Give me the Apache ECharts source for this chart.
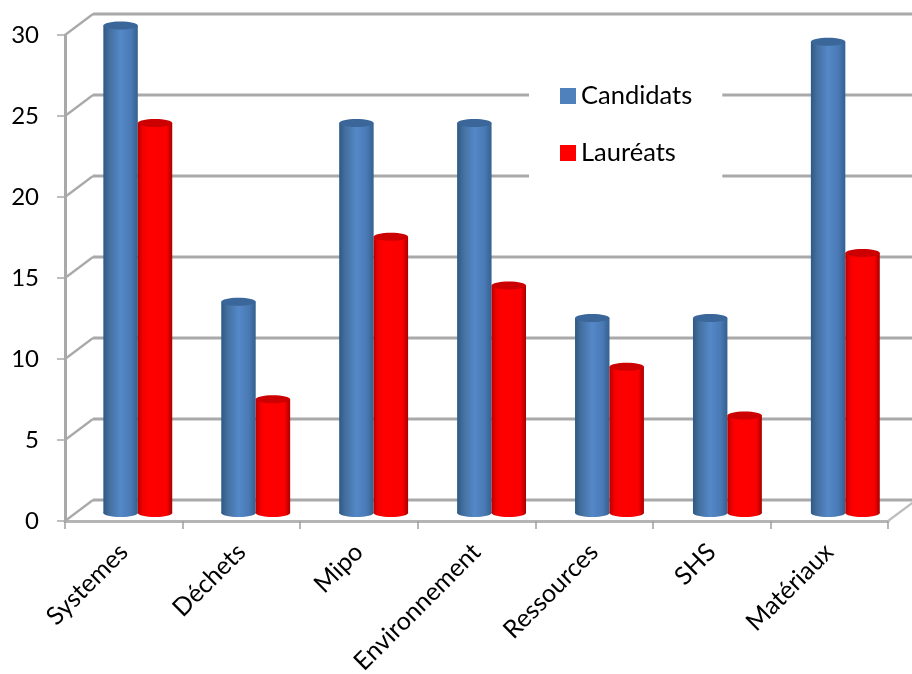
<!DOCTYPE html>
<html>
<head>
<meta charset="utf-8">
<style>html,body{margin:0;padding:0;background:#fff}#chart{width:912px;height:674px}</style>
<script src="https://cdn.jsdelivr.net/npm/echarts@6/dist/echarts.min.js"></script>
</head>
<body>
<div id="chart"></div>
<script>
const categories = ['Systemes', 'Déchets', 'Mipo', 'Environnement', 'Ressources', 'SHS', 'Matériaux'];
const candidats = [30, 13, 24, 24, 12, 12, 29];
const laureats = [24, 7, 17, 14, 9, 6, 16];
const valueTicks = [0, 5, 10, 15, 20, 25, 30];

// Oblique projection used for the pseudo-3D box
const DEPTH_X = 28, DEPTH_Y = -21;
const BAR_SHIFT_X = 14, BAR_SHIFT_Y = -8, BAR_RATIO = 0.293, CAP_RY = 4, BAR_SPREAD = 0.003, BAR_RISE = 1.003;
const WALL = '#a9a9a9';

const cylinder = (c) => new echarts.graphic.LinearGradient(0, 0, 1, 0, c);
const blueBody = [
  { offset: 0, color: '#2e5985' }, { offset: 0.18, color: '#44709f' },
  { offset: 0.5, color: '#5488c8' }, { offset: 0.8, color: '#4a7ab5' },
  { offset: 1, color: '#33608f' }
];
const redBody = [
  { offset: 0, color: '#b80000' }, { offset: 0.14, color: '#f20000' },
  { offset: 0.3, color: '#ff0000' }, { offset: 0.84, color: '#fa0000' },
  { offset: 1, color: '#a80000' }
];

// One cylinder: side = -1 for the left bar of a category, 0 for the right one
function barRenderer(side, body, cap) {
  return function (params, api) {
    const band = api.size([1, 0])[0];
    const w = band * BAR_RATIO;
    const top = api.coord([api.value(0), api.value(1)]);
    const base = api.coord([api.value(0), 0]);
    const x = top[0] + BAR_SHIFT_X + side * w + band * api.value(0) * BAR_SPREAD;
    const yB = base[1] + BAR_SHIFT_Y;
    const yT = yB - (base[1] - top[1]) * BAR_RISE;
    const fill = cylinder(body);
    return {
      type: 'group',
      children: [
        { type: 'ellipse', shape: { cx: x + w / 2, cy: yB, rx: w / 2, ry: CAP_RY }, style: { fill } },
        { type: 'rect', shape: { x, y: yT, width: w, height: yB - yT }, style: { fill } },
        { type: 'ellipse', shape: { cx: x + w / 2, cy: yT, rx: w / 2, ry: CAP_RY }, style: { fill: cap } }
      ]
    };
  };
}

// Back wall gridline and the diagonal joining it to the front axis
function wallRenderer(params, api) {
  const p = api.coord([0, api.value(0)]);
  const left = p[0] - api.size([1, 0])[0] / 2;
  const line = (x1, y1, x2, y2, w, c) => ({
    type: 'line', shape: { x1, y1, x2, y2 }, style: { stroke: c || WALL, lineWidth: w }
  });
  const kids = [
    line(left, p[1], left + DEPTH_X, p[1] + DEPTH_Y, 2.2),
    line(left + DEPTH_X, p[1] + DEPTH_Y, api.getWidth(), p[1] + DEPTH_Y, 2.8)
  ];
  if (api.value(0) === 0) {
    const right = left + api.size([1, 0])[0] * categories.length;
    kids.push(line(right, p[1], right + DEPTH_X, p[1] + DEPTH_Y, 2.2, '#bdbdbd'));
  }
  return { type: 'group', children: kids };
}

const chart = echarts.init(document.getElementById('chart'));
const FONT = 'Lato';
chart.setOption({
  animation: false,
  backgroundColor: '#fff',
  textStyle: { fontFamily: FONT },
  grid: { left: 65, right: 24, top: 35, bottom: 153, outerBoundsMode: 'none' },
  legend: {
    orient: 'vertical',
    left: 529,
    top: 60,
    backgroundColor: '#fff',
    padding: [23, 30, 22, 31],
    itemWidth: 16,
    itemHeight: 16,
    itemGap: 31,
    icon: 'rect',
    z: 6,
    textStyle: { fontFamily: FONT, fontSize: 25.5, color: '#000' },
    data: [
      { name: 'Candidats', itemStyle: { color: '#4f81bd' } },
      { name: 'Lauréats', itemStyle: { color: '#ff0000' } }
    ]
  },
  xAxis: {
    type: 'category',
    data: categories,
    axisLine: { lineStyle: { color: '#b5b5b5', width: 3 } },
    axisTick: { show: true, length: 8, alignWithLabel: false, lineStyle: { color: '#a0a0a0', width: 1.5 } },
    axisLabel: { interval: 0, rotate: 45, margin: 27, fontFamily: FONT, fontSize: 25, color: '#000' }
  },
  yAxis: {
    type: 'value',
    min: 0,
    max: 30,
    interval: 5,
    splitLine: { show: false },
    axisLine: { show: true, lineStyle: { color: WALL, width: 3 } },
    axisTick: { show: true, length: 8, lineStyle: { color: WALL, width: 1.5 } },
    axisLabel: { margin: 26, fontFamily: FONT, fontSize: 24, color: '#000' }
  },
  series: [
    {
      type: 'custom', name: 'frame', z: 1, silent: true, clip: false,
      renderItem: wallRenderer,
      encode: { y: 0 },
      data: valueTicks.map((v) => [v])
    },
    {
      type: 'custom', name: 'Candidats', z: 3, clip: false,
      itemStyle: { color: '#4f81bd' },
      renderItem: barRenderer(-1, blueBody, '#3b6699'),
      encode: { x: 0, y: 1 },
      data: candidats.map((v, i) => [i, v])
    },
    {
      type: 'custom', name: 'Lauréats', z: 3, clip: false,
      itemStyle: { color: '#ff0000' },
      renderItem: barRenderer(0, redBody, '#cc0000'),
      encode: { x: 0, y: 1 },
      data: laureats.map((v, i) => [i, v])
    }
  ]
});
</script>
</body>
</html>
